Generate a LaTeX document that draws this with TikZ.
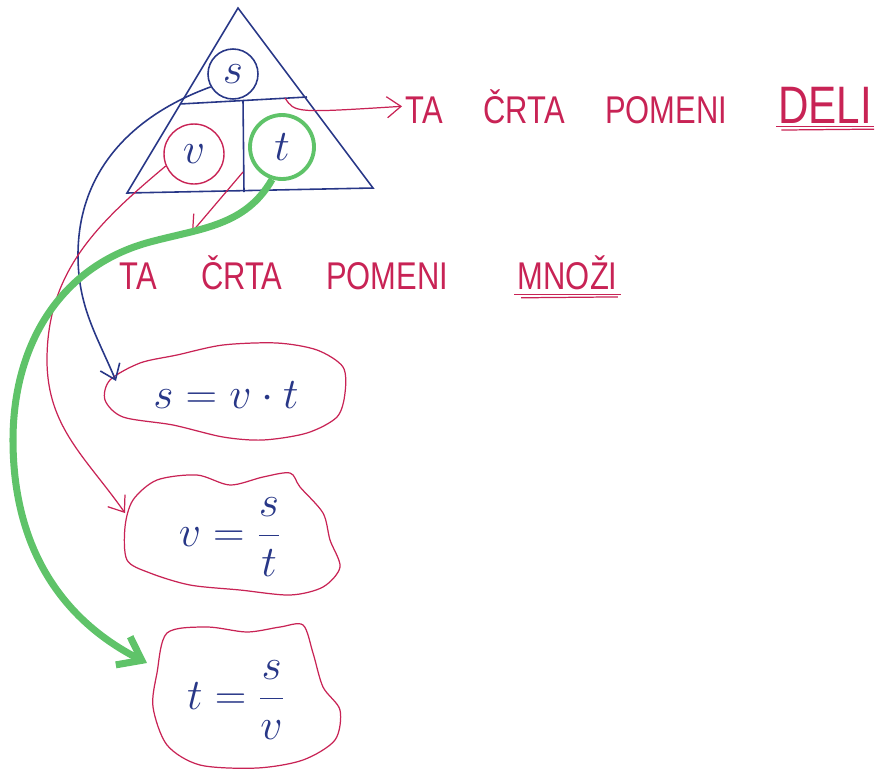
\documentclass[tikz,border=0pt]{standalone}
\usepackage{fontspec}
\newfontfamily\handfont[FakeStretch=0.8]{Liberation Sans}
\usetikzlibrary{arrows.meta}
\definecolor{blueink}{RGB}{40,55,135}
\definecolor{redink}{RGB}{200,35,85}
\definecolor{greenink}{RGB}{95,195,105}
\begin{document}
\begin{tikzpicture}[x=0.02cm,y=-0.02cm,
  bluepen/.style={draw=blueink,line width=0.9pt},
  redpen/.style={draw=redink,line width=0.7pt},
  greenpen/.style={draw=greenink,line width=4pt},
  barb/.style={-{Straight Barb[length=8pt,width=12pt]}},
  words/.style={text=redink,inner sep=2pt,font=\handfont\fontsize{22}{26}\selectfont},
  bigwords/.style={words,inner sep=1pt,font=\handfont\fontsize{30}{34}\selectfont},
  letter/.style={circle,text=blueink,inner sep=0pt,font=\fontsize{24}{28}\selectfont},
  formula/.style={text=blueink,font=\fontsize{28}{32}\selectfont}]
\useasboundingbox (0,0) rectangle (878,778);
\draw[bluepen] (238,8) -- (373,188) -- (127,193) -- cycle;
\draw[bluepen] (180,104) -- (307,97);
\draw[bluepen] (243,100) -- (244,192);
\node[letter,draw=blueink,line width=0.9pt,minimum size=1cm] (s) at (233,74) {$s$};
\node[letter,draw=redink,line width=0.8pt,minimum size=1.2cm] (v) at (194,154) {$v$};
\node[letter,draw=greenink,line width=2.2pt,minimum size=1.28cm] (t) at (282,147) {$t$};

\node[words,anchor=base west] (line1) at (402,123) {TA\hspace{23pt}ČRTA\hspace{23pt}POMENI};
\node[bigwords,anchor=base east] (deli) at (874,123) {DELI};
\node[words,anchor=base west] (line2) at (116,289) {TA\hspace{25pt}ČRTA\hspace{25pt}POMENI};
\node[words,anchor=base west] (mnozi) at (514,289) {MNOŽI};
\draw[redpen] ([yshift=-2pt]deli.base west) -- ([yshift=-2pt]deli.base east);
\draw[redpen] ([yshift=-4pt,xshift=3pt]deli.base west) -- ([yshift=-3.5pt]deli.base east);
\draw[redpen] ([yshift=-3pt]mnozi.base west) -- ([yshift=-3pt]mnozi.base east);
\draw[redpen] ([yshift=-5pt,xshift=4pt]mnozi.base west) -- ([yshift=-4.5pt,xshift=-2pt]mnozi.base east);

\coordinate (hline) at (285,98);
\coordinate (vline) at (243,172);
\coordinate (below) at (192,232);
\draw[redpen,barb] (hline) .. controls (295,113) .. (line1.west);
\draw[redpen,barb] (vline) -- (below);

\node[formula] (eq1) at (226,395) {$s = v \cdot t$};
\node[formula] (eq2) at (230,537) {$v = \displaystyle\frac{s}{t}$};
\node[formula] (eq3) at (236,700) {$t = \displaystyle\frac{s}{v}$};
\draw[redpen] plot[smooth cycle] coordinates {(177,355) (223,345) (277,343) (317,350) (343,367)
  (345,393) (337,417) (307,433) (263,440) (223,437) (173,425) (123,417) (105,400) (110,380) (140,363)};
\draw[redpen] plot[smooth cycle] coordinates {(133,500) (157,480) (197,475) (230,485) (263,477)
  (290,473) (300,487) (323,513) (330,540) (340,567) (323,587) (290,595) (240,590) (190,585)
  (150,573) (127,560) (125,527)};
\draw[redpen] plot[smooth cycle] coordinates {(167,633) (207,627) (247,632) (280,627) (303,625)
  (313,653) (323,687) (340,710) (335,740) (303,760) (257,768) (200,765) (167,745) (153,707) (157,673)};

\coordinate (in1) at (116,381);
\coordinate (in2) at (125,513);
\coordinate (in3) at (147,663);
\draw[bluepen,barb] (s.210) to[out=200,in=90] (78,255) to[out=-90,in=113] (in1);
\draw[redpen,barb] (v.203) to[out=220,in=90] (47,360) to[out=-90,in=125] (in2);
\draw[greenpen,-{Straight Barb[length=12pt,width=18pt]}] (t.253) to[out=240,in=15] (150,242)
  to[out=195,in=90] (13,440) to[out=-90,in=153] (in3);
\end{tikzpicture}
\end{document}
